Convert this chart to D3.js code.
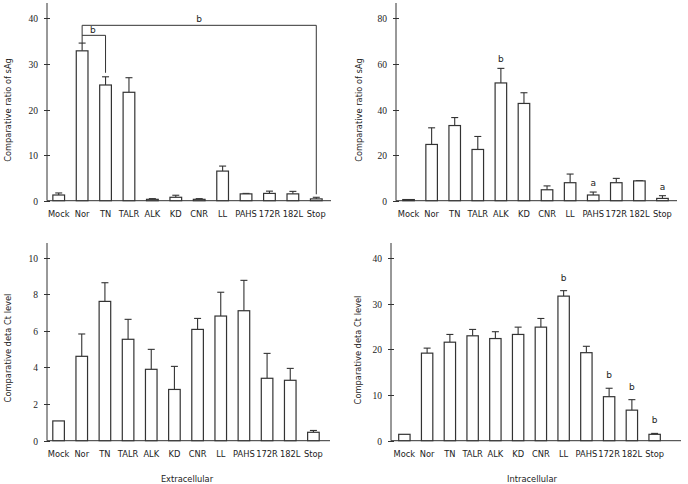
<!DOCTYPE html>
<html><head><meta charset="utf-8">
<script src="https://cdn.jsdelivr.net/npm/d3@7/dist/d3.min.js"></script>
<style>body{margin:0;background:#fff}svg{display:block}</style>
</head><body>
<svg id="c" width="688" height="484"></svg>
<script>
const categories = ["Mock","Nor","TN","TALR","ALK","KD","CNR","LL","PAHS","172R","182L","Stop"];

// Top-left: extracellular sAg
const extSAg    = [1.25, 32.9, 25.4, 23.8, 0.3, 0.75, 0.3, 6.5, 1.5, 1.6, 1.5, 0.4];
const extSAgErr = [0.45, 1.7, 1.8, 3.2, 0.15, 0.45, 0.15, 1.1, 0.1, 0.5, 0.55, 0.35];
// Top-right: intracellular sAg
const intSAg    = [0.5, 24.7, 33.0, 22.5, 51.7, 42.7, 4.8, 7.9, 2.5, 7.9, 8.7, 1.0];
const intSAgErr = [0, 7.3, 3.5, 5.7, 6.4, 4.7, 1.7, 3.8, 1.3, 1.9, 0.1, 1.2];
// Bottom-left: extracellular delta Ct
const extCt     = [1.08, 4.61, 7.61, 5.54, 3.90, 2.80, 6.08, 6.81, 7.10, 3.41, 3.30, 0.46];
const extCtErr  = [0, 1.22, 1.02, 1.09, 1.09, 1.26, 0.60, 1.30, 1.66, 1.36, 0.65, 0.10];
// Bottom-right: intracellular delta Ct
const intCt     = [1.4, 19.2, 21.6, 23.0, 22.4, 23.3, 24.9, 31.7, 19.3, 9.65, 6.7, 1.4];
const intCtErr  = [0, 1.1, 1.7, 1.4, 1.5, 1.6, 1.9, 1.2, 1.4, 1.85, 2.3, 0.2];

const ticksTop = [0, 10, 20, 30, 40];
const ticksTopR = [0, 20, 40, 60, 80];
const ticksBL = [0, 2, 4, 6, 8, 10];
const ticksBR = [0, 10, 20, 30, 40];

const marksTR = [{cat:"ALK", t:"b"}, {cat:"PAHS", t:"a"}, {cat:"Stop", t:"a"}];
const marksBR = [{cat:"LL", t:"b"}, {cat:"172R", t:"b"}, {cat:"182L", t:"b"}, {cat:"Stop", t:"b"}];

const svg = d3.select("#c");
const INK = "#333";
const SANS = "'DejaVu Sans', Verdana, sans-serif";
const SERIF = "'Liberation Serif', 'Times New Roman', serif";

function panel(o){
  const g = svg.append("g");
  const x = d3.scaleBand().domain(categories).range(o.xr).paddingInner(0.5).paddingOuter(0.25);
  const y = d3.scaleLinear().domain([0, o.ymax]).range([o.y0, o.ytop]);
  // axes lines
  g.append("line").attr("x1", o.ax).attr("x2", o.ax).attr("y1", o.ytop).attr("y2", o.y0)
    .attr("stroke", INK).attr("stroke-width", 1);
  g.append("line").attr("x1", o.ax).attr("x2", o.xend).attr("y1", o.y0).attr("y2", o.y0)
    .attr("stroke", INK).attr("stroke-width", 1);
  // y ticks
  o.ticks.forEach(t => {
    const yy = Math.round(y(t)) + 0.5;
    g.append("line").attr("x1", o.ax - 3).attr("x2", o.ax + 3).attr("y1", yy).attr("y2", yy)
      .attr("stroke", INK).attr("stroke-width", 1);
    g.append("text").attr("x", o.ax - 9).attr("y", yy).attr("dy", "0.33em")
      .attr("text-anchor", "end").attr("font-family", SERIF).attr("font-size", 9.5)
      .attr("fill", "#222").text(t);
  });
  // bars
  categories.forEach((c, i) => {
    const v = o.vals[i], e = o.errs[i];
    const bx = x(c), bw = x.bandwidth(), cx = bx + bw / 2;
    if (e > 0) {
      g.append("line").attr("x1", cx).attr("x2", cx).attr("y1", y(v)).attr("y2", y(v + e))
        .attr("stroke", INK).attr("stroke-width", 1.1);
      g.append("line").attr("x1", cx - 3.5).attr("x2", cx + 3.5).attr("y1", y(v + e)).attr("y2", y(v + e))
        .attr("stroke", INK).attr("stroke-width", 1.1);
    }
    g.append("rect").attr("x", bx).attr("y", y(v)).attr("width", bw).attr("height", o.y0 - y(v))
      .attr("fill", (o.grayFirst && i === 0) ? "#999" : "#fff")
      .attr("stroke", INK).attr("stroke-width", 1.2);
  });
  // x labels
  categories.forEach(c => {
    g.append("text").attr("x", x(c) + x.bandwidth() / 2).attr("y", o.y0 + 16)
      .attr("text-anchor", "middle").attr("font-family", SANS).attr("font-size", 8.3)
      .attr("fill", "#222").text(c);
  });
  // y title
  g.append("text").attr("transform", `translate(${o.ylx},${o.ylc}) rotate(-90)`)
    .attr("text-anchor", "middle").attr("dy", "0.35em").attr("font-family", SANS)
    .attr("font-size", 8.3).attr("fill", "#222").text(o.ytitle);
  if (o.xtitle) {
    g.append("text").attr("x", o.xtc).attr("y", o.y0 + 41).attr("text-anchor", "middle")
      .attr("font-family", SANS).attr("font-size", 8.3).attr("fill", "#222").text(o.xtitle);
  }
  // annotation marks
  (o.marks || []).forEach(m => {
    const i = categories.indexOf(m.cat);
    g.append("text").attr("x", x(m.cat) + x.bandwidth() / 2).attr("y", y(o.vals[i] + o.errs[i]) - o.mgap)
      .attr("text-anchor", "middle").attr("font-family", SANS).attr("font-size", 9)
      .attr("fill", "#222").text(m.t);
  });
  return {g, x, y};
}

const p1 = panel({xr:[47,328], ax:47, xend:331, y0:200.7, ytop:3, ymax:43.4, ticks:ticksTop,
  vals:extSAg, errs:extSAgErr, ylx:8, ylc:110, ytitle:"Comparative ratio of sAg"});
panel({xr:[397,674], ax:396, xend:677, y0:200.7, ytop:3, ymax:86.8, ticks:ticksTopR,
  vals:intSAg, errs:intSAgErr, ylx:359, ylc:110, ytitle:"Comparative ratio of sAg",
  marks:marksTR, mgap:6, grayFirst:true});
panel({xr:[47,325], ax:47, xend:330, y0:440.7, ytop:243, ymax:10.8, ticks:ticksBL,
  vals:extCt, errs:extCtErr, ylx:8, ylc:348, ytitle:"Comparative deta Ct level",
  xtitle:"Extracellular", xtc:187});
panel({xr:[393,666], ax:391, xend:681, y0:440.7, ytop:243, ymax:43.35, ticks:ticksBR,
  vals:intCt, errs:intCtErr, ylx:358, ylc:350, ytitle:"Comparative deta Ct level",
  xtitle:"Intracellular", xtc:532, marks:marksBR, mgap:10});

// significance brackets on top-left panel
(function(){
  const {g, x, y} = p1;
  const cx = c => x(c) + x.bandwidth() / 2;
  const bigLevel = 38.5, smallLevel = 36.3;
  const norTop = extSAg[1] + extSAgErr[1];
  const path1 = d3.path();
  path1.moveTo(cx("Nor"), y(norTop)); path1.lineTo(cx("Nor"), y(bigLevel));
  path1.lineTo(cx("Stop"), y(bigLevel)); path1.lineTo(cx("Stop"), y(extSAg[11] + extSAgErr[11]) - 3);
  g.append("path").attr("d", path1.toString()).attr("fill", "none").attr("stroke", INK).attr("stroke-width", 1);
  const path2 = d3.path();
  path2.moveTo(cx("Nor"), y(smallLevel)); path2.lineTo(cx("TN"), y(smallLevel));
  path2.lineTo(cx("TN"), y(extSAg[2] + extSAgErr[2]) - 4);
  g.append("path").attr("d", path2.toString()).attr("fill", "none").attr("stroke", INK).attr("stroke-width", 1);
  g.append("text").attr("x", (cx("Nor") + cx("Stop")) / 2).attr("y", y(bigLevel) - 3)
    .attr("text-anchor", "middle").attr("font-family", SANS).attr("font-size", 9).attr("fill", "#222").text("b");
  g.append("text").attr("x", (cx("Nor") + cx("TN")) / 2 - 1).attr("y", y(smallLevel) - 2.5)
    .attr("text-anchor", "middle").attr("font-family", SANS).attr("font-size", 9).attr("fill", "#222").text("b");
})();
</script>
</body></html>
